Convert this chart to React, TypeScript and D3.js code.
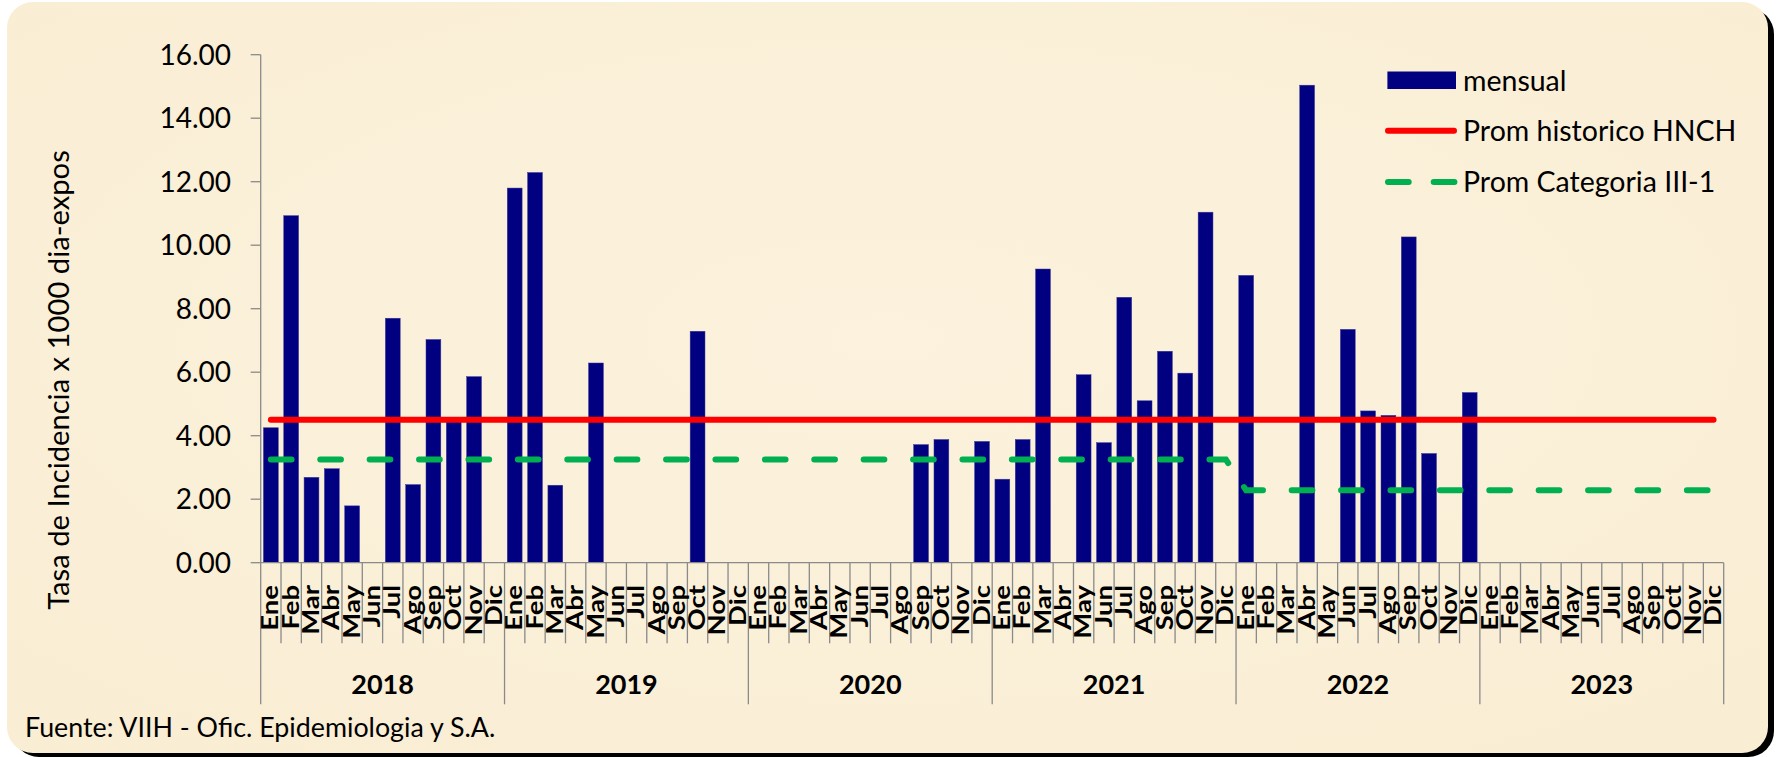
import React from "react";
import * as d3 from "d3";

const years = ["2018", "2019", "2020", "2021", "2022", "2023"];
const months = ["Ene", "Feb", "Mar", "Abr", "May", "Jun", "Jul", "Ago", "Sep", "Oct", "Nov", "Dic"];

// monthly incidence (null = no bar)
const mensual2018 = [4.25, 10.93, 2.69, 2.96, 1.79, null, 7.7, 2.46, 7.03, 4.45, 5.86, null];
const mensual2019 = [11.8, 12.29, 2.44, null, 6.29, null, null, null, null, 7.29, null, null];
const mensual2020 = [null, null, null, null, null, null, null, null, 3.72, 3.88, null, 3.82];
const mensual2021 = [2.63, 3.88, 9.25, null, 5.92, 3.78, 8.36, 5.1, 6.66, 5.97, 11.04, null];
const mensual2022 = [9.05, null, null, 15.04, null, 7.35, 4.78, 4.64, 10.26, 3.44, null, 5.36];
const mensual2023 = [null, null, null, null, null, null, null, null, null, null, null, null];

// reference averages, per year
const promHistoricoByYear = [4.5, 4.5, 4.5, 4.5, 4.5, 4.5];
const promCategoriaByYear = [3.25, 3.25, 3.25, 3.25, 2.28, 2.28];

const yTicks = [0, 2, 4, 6, 8, 10, 12, 14, 16];

const legendItems = ["mensual", "Prom historico HNCH", "Prom Categoria III-1"];
const yTitle = "Tasa de Incidencia x 1000 dia-expos";
const footer = "Fuente: VIIH - Ofic. Epidemiologia y S.A.";

const W = 1777;
const H = 757;
const FONT = "Lato, 'Open Sans', sans-serif";

export default function App() {
  const mensualAll = [mensual2018, mensual2019, mensual2020, mensual2021, mensual2022, mensual2023];
  const rows: { key: string; year: string; month: string; value: number | null; hist: number; cat: number }[] = [];
  years.forEach((yr, yi) => {
    months.forEach((m, mi) => {
      rows.push({
        key: `${yr}-${m}`,
        year: yr,
        month: m,
        value: mensualAll[yi][mi],
        hist: promHistoricoByYear[yi],
        cat: promCategoriaByYear[yi],
      });
    });
  });

  const left = 260.7;
  const right = 1723.7;
  const top = 54.7;
  const bottom = 562.7;

  const x = d3
    .scaleBand<string>()
    .domain(rows.map((r) => r.key))
    .range([left, right])
    .paddingInner(0.27)
    .paddingOuter(0.135);
  const bw = x.bandwidth();
  const cx = (k: string) => (x(k) as number) + bw / 2;

  const y = d3.scaleLinear().domain([0, 16]).range([bottom, top]);

  const line = d3
    .line<{ key: string; v: number }>()
    .x((d) => cx(d.key))
    .y((d) => y(d.v));

  const histPath = line(rows.map((r) => ({ key: r.key, v: r.hist }))) || "";
  const catPath = line(rows.map((r) => ({ key: r.key, v: r.cat }))) || "";

  const boundaryX = (i: number) => left + i * ((right - left) / rows.length);

  const axisColor = "#8a8a8a";

  return (
    <svg
      width={W}
      height={H}
      style={{ position: "absolute", left: 0, top: 0, display: "block" }}
      fontFamily={FONT}
    >
      <defs>
        <radialGradient id="paper" cx="50%" cy="45%" r="75%">
          <stop offset="0%" stopColor="#FCF2DD" />
          <stop offset="100%" stopColor="#F9EDD3" />
        </radialGradient>
      </defs>
      <rect x={0} y={0} width={W} height={H} fill="#ffffff" />
      {/* frame shadow */}
      <rect x={13} y={8} width={1761} height={749} rx={26} fill="#000000" />
      <rect x={7} y={2} width={1761} height={751} rx={26} fill="url(#paper)" />

      {/* y ticks + labels */}
      {yTicks.map((t) => (
        <g key={t}>
          <line x1={left - 10} x2={left} y1={y(t)} y2={y(t)} stroke={axisColor} strokeWidth={1.3} />
          <text x={231} y={y(t)} dy="0.36em" textAnchor="end" fontSize={28} fill="#000">
            {t.toFixed(2)}
          </text>
        </g>
      ))}
      <line x1={left} x2={left} y1={top} y2={bottom} stroke={axisColor} strokeWidth={1.3} />

      {/* y title */}
      <text transform={`translate(69,380) rotate(-90)`} textAnchor="middle" fontSize={29.2} fill="#000">
        {yTitle}
      </text>

      {/* bars */}
      {rows
        .filter((r) => r.value !== null)
        .map((r) => (
          <rect
            key={r.key}
            x={x(r.key)}
            y={y(r.value as number)}
            width={bw}
            height={bottom - y(r.value as number)}
            fill="#000080"
            stroke="#3a3a9a"
            strokeWidth={0.5}
          />
        ))}

      {/* x axis */}
      <line x1={left} x2={right} y1={bottom} y2={bottom} stroke={axisColor} strokeWidth={1.3} />
      {d3.range(rows.length + 1).map((i) => (
        <line
          key={`b${i}`}
          x1={boundaryX(i)}
          x2={boundaryX(i)}
          y1={bottom}
          y2={i % 12 === 0 ? 704.3 : 643.3}
          stroke={axisColor}
          strokeWidth={1.3}
        />
      ))}

      {/* month labels */}
      {rows.map((r) => (
        <text
          key={`m${r.key}`}
          transform={`translate(${cx(r.key) + 7.6},585) rotate(-90) scale(1.17,1)`}
          textAnchor="end"
          fontSize={23.5}
          fontWeight="bold"
          fill="#000"
        >
          {r.month}
        </text>
      ))}

      {/* year labels */}
      {years.map((yr, i) => (
        <text
          key={yr}
          x={(boundaryX(i * 12) + boundaryX(i * 12 + 12)) / 2}
          y={694}
          textAnchor="middle"
          fontSize={27}
          fontWeight="bold"
          fill="#000"
        >
          {yr}
        </text>
      ))}

      {/* reference lines */}
      <path d={histPath} fill="none" stroke="#FF0000" strokeWidth={6} strokeLinecap="round" />
      <path
        d={catPath}
        fill="none"
        stroke="#00B050"
        strokeWidth={6}
        strokeLinecap="round"
        strokeDasharray="20.7 28.7"
      />

      {/* legend */}
      <rect x={1387.4} y={71.5} width={68.6} height={17.5} fill="#000080" />
      <text x={1463} y={90.8} fontSize={28.5} fill="#000">
        {legendItems[0]}
      </text>
      <line x1={1388} x2={1454} y1={130.7} y2={130.7} stroke="#FF0000" strokeWidth={6} strokeLinecap="round" />
      <text x={1463} y={140.5} fontSize={28.5} fill="#000">
        {legendItems[1]}
      </text>
      <line
        x1={1388}
        x2={1454.5}
        y1={182.1}
        y2={182.1}
        stroke="#00B050"
        strokeWidth={6}
        strokeLinecap="round"
        strokeDasharray="20.7 25"
      />
      <text x={1463} y={192} fontSize={28.5} fill="#000">
        {legendItems[2]}
      </text>

      {/* footer */}
      <text x={25} y={737} fontSize={26.8} fill="#000">
        {footer}
      </text>
    </svg>
  );
}
